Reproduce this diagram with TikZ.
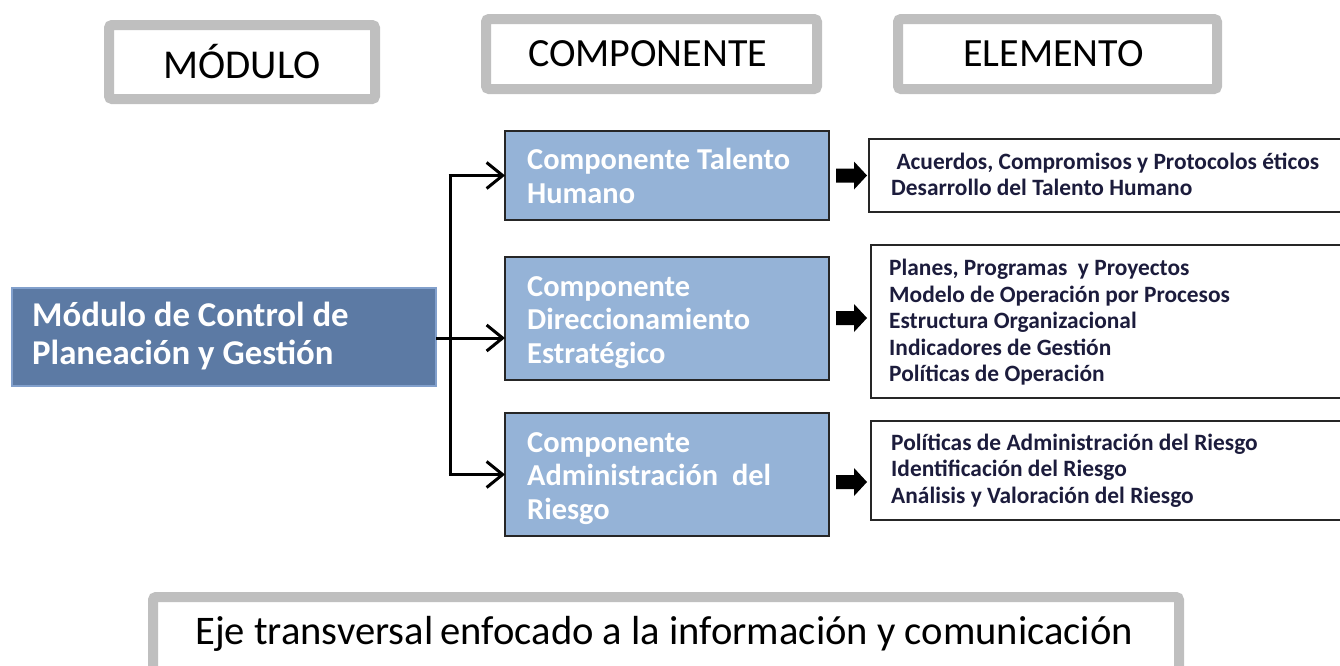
\documentclass[tikz,border=0pt]{standalone}
\usepackage{fontspec}
\setmainfont{Carlito}
\usetikzlibrary{arrows.meta,calc}
\definecolor{hdrgray}{RGB}{191,191,191}
\definecolor{modfill}{RGB}{92,122,164}
\definecolor{modline}{RGB}{130,160,204}
\definecolor{compfill}{RGB}{149,179,215}
\definecolor{eltext}{RGB}{28,28,60}
\tikzset{
  hdrbox/.style={draw=hdrgray, line width=10pt, rounded corners=3pt, fill=white, inner sep=0pt, outer sep=0pt},
  hdrtext/.style={font=\fontsize{40}{44}\selectfont, text=black, inner sep=0pt},
  modbox/.style={draw=modline, line width=2pt, fill=modfill, inner sep=0pt, outer sep=0pt, anchor=north west},
  modtext/.style={font=\bfseries\fontsize{34.8}{37.5}\selectfont, text=white, align=left, anchor=west, inner sep=0pt},
  compbox/.style={draw=black!85, line width=2pt, fill=compfill, inner sep=0pt, outer sep=0pt, anchor=north west},
  comptext/.style={font=\bfseries\fontsize{30.4}{33.6}\selectfont, text=white, align=left, anchor=west, inner sep=0pt},
  elbox/.style={draw=black!85, line width=1.6pt, fill=white, inner sep=0pt, outer sep=0pt, anchor=north west},
  eltextst/.style={font=\bfseries\fontsize{23.4}{26.5}\selectfont, text=eltext, align=left, anchor=west, inner sep=0pt},
  conn/.style={line width=3pt, -{Straight Barb[length=16pt,width=26pt,line width=3pt]}},
  connplain/.style={line width=3pt},
  blockarrow/.style={fill=black},
}
\begin{document}
\begin{tikzpicture}[x=1pt,y=-1pt]
\useasboundingbox (0,0) rectangle (1340,665);
% header boxes
\node[hdrbox, minimum width=266pt, minimum height=74pt] (hm) at (242,62) {};
\node[hdrtext, font=\fontsize{41}{44}\selectfont] at (hm.center) {MÓDULO};
\node[hdrbox, minimum width=331pt, minimum height=70pt] (hc) at (651.5,54) {};
\node[hdrtext] at ([xshift=-4pt]hc.center) {COMPONENTE};
\node[hdrbox, minimum width=319pt, minimum height=70pt] (he) at (1057.5,54) {};
\node[hdrtext] at ([xshift=-4pt]he.center) {ELEMENTO};
% module
\node[modbox, minimum width=424pt, minimum height=98pt] (m) at (12,288) {};
\node[modtext] at ([xshift=20pt,yshift=1pt]m.west) {Módulo de Control de\\Planeación y Gestión};
% components
\node[compbox, minimum width=324pt, minimum height=89pt] (c1) at (505,131) {};
\node[comptext] at ([xshift=22pt,yshift=-0.5pt]c1.west) {Componente Talento\\Humano};
\node[compbox, minimum width=324pt, minimum height=123pt] (c2) at (505,257) {};
\node[comptext] at ([xshift=22pt,yshift=-4pt]c2.west) {Componente\\Direccionamiento\\Estratégico};
\node[compbox, minimum width=324pt, minimum height=123pt] (c3) at (505,413) {};
\node[comptext] at ([xshift=22pt,yshift=-4pt]c3.west) {Componente\\Administración\ \ del\\Riesgo};
% elements
\node[elbox, minimum width=480pt, minimum height=73pt] (e1) at (869,139) {};
\node[eltextst] at ([xshift=22pt,yshift=1pt]e1.west) {\ Acuerdos, Compromisos y Protocolos éticos\\Desarrollo del Talento Humano};
\node[elbox, minimum width=480pt, minimum height=153pt] (e2) at (871,245) {};
\node[eltextst] at ([xshift=18pt,yshift=-1pt]e2.west) {Planes, Programas\ \ y Proyectos\\Modelo de Operación por Procesos\\Estructura Organizacional\\Indicadores de Gestión\\Políticas de Operación};
\node[elbox, minimum width=480pt, minimum height=99pt] (e3) at (871,421) {};
\node[eltextst] at ([xshift=20pt,yshift=0pt]e3.west) {Políticas de Administración del Riesgo\\Identificación del Riesgo\\Análisis y Valoración del Riesgo};
% bottom box
\node[hdrbox, minimum width=1026pt, minimum height=90pt, anchor=north west] (b) at (153,597) {};
\node[hdrtext, font=\fontsize{40.6}{44}\selectfont, anchor=west] at (195,633.5) {Eje transversal\hspace{-2pt} enfocado a la información y comunicación};
% connectors
\coordinate (j) at (450,338);
\draw[connplain] (j |- c1.west) -- (j |- c3.west);
\draw[conn] (m.east |- j) -- (c2.west |- j);
\draw[conn] ([xshift=-1.5pt]j |- c1.west) -- (c1.west);
\draw[conn] ([xshift=-1.5pt]j |- c3.west) -- (c3.west);
% block arrows (fat arrows from components to elements)
\fill[blockarrow] ([shift={(7,-7)}]c1.east) -- ++(18,0) -- ++(0,-7) -- ++(13,14) -- ++(-13,14) -- ++(0,-7) -- ++(-18,0) -- cycle;
\fill[blockarrow] ([shift={(7,-7.5)}]c2.east) -- ++(18,0) -- ++(0,-7) -- ++(13,14) -- ++(-13,14) -- ++(0,-7) -- ++(-18,0) -- cycle;
\fill[blockarrow] ([shift={(7,0.5)}]c3.east) -- ++(18,0) -- ++(0,-7) -- ++(13,14) -- ++(-13,14) -- ++(0,-7) -- ++(-18,0) -- cycle;
\end{tikzpicture}
\end{document}
